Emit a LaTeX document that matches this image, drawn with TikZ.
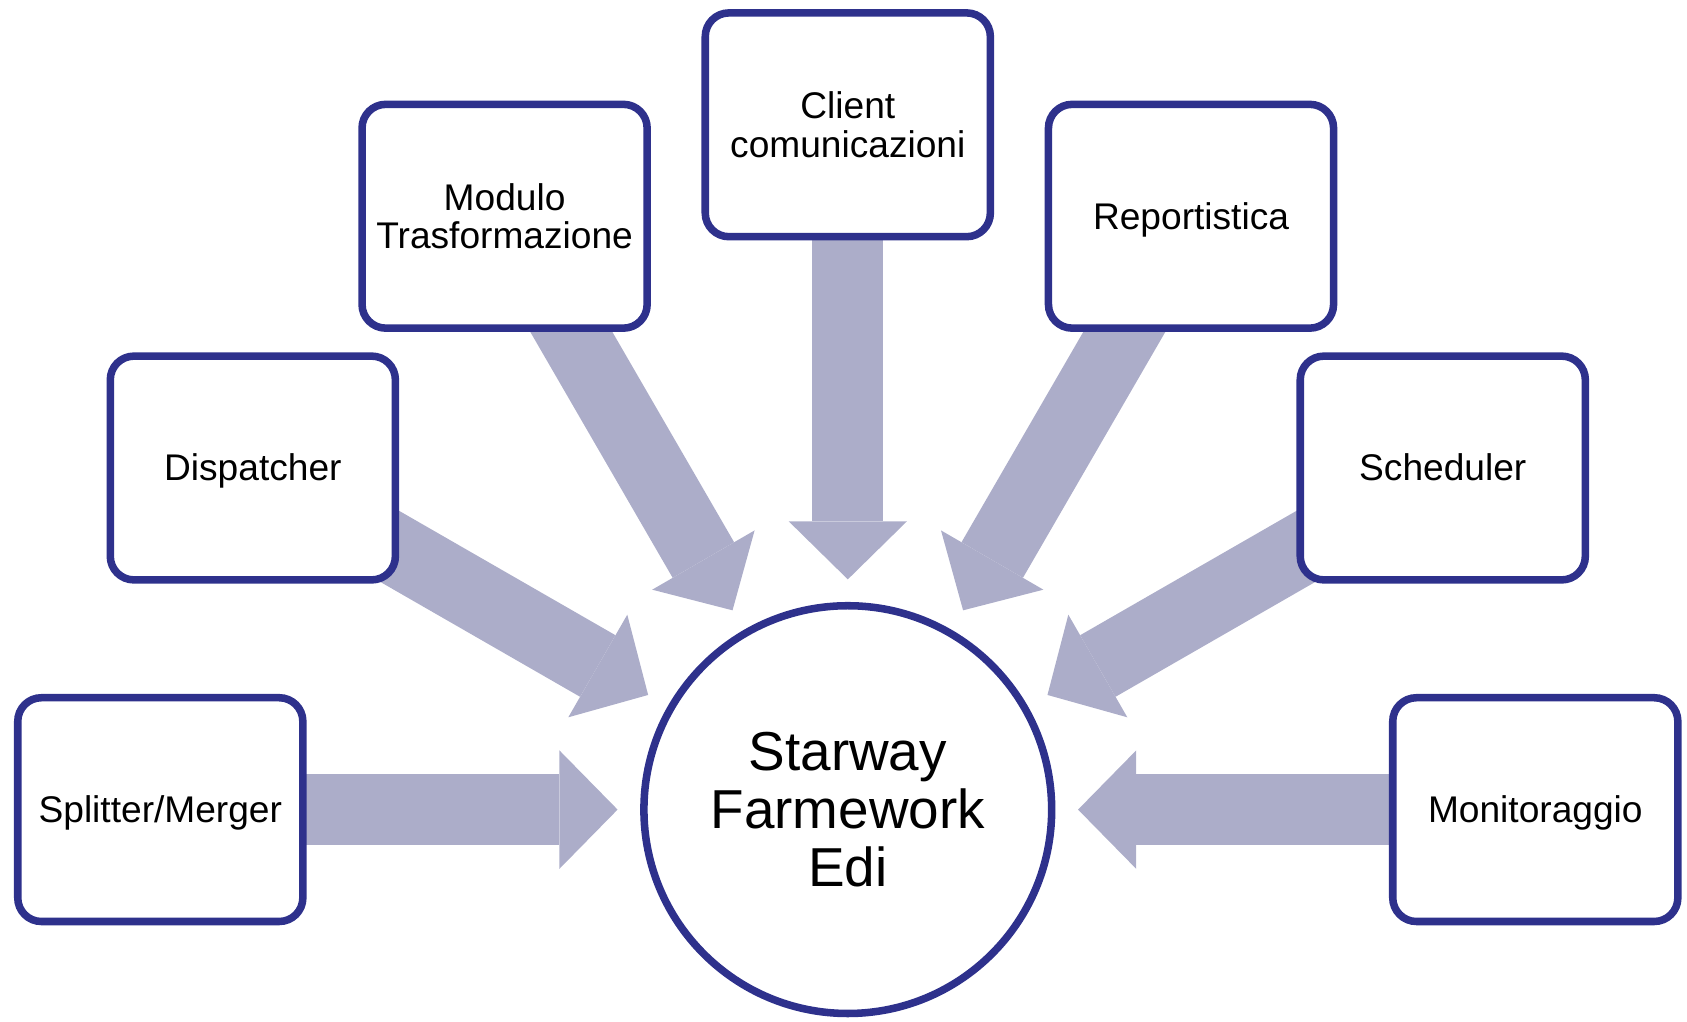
\documentclass[tikz,border=0pt]{standalone}
\usepackage{fontspec}
\setmainfont{Liberation Sans}
\usetikzlibrary{arrows.meta,backgrounds,shadows}

\definecolor{edgeblue}{RGB}{46,49,140}
\definecolor{flowgray}{RGB}{172,173,201}

\tikzset{
    part/.style={draw=edgeblue, line width=3.5pt, fill=white, rounded corners=11pt,
        minimum width=132.5pt, minimum height=104pt, align=center, inner sep=0pt,
        font=\fontsize{17.25}{18}\selectfont,
        drop shadow={shadow xshift=0.8pt, shadow yshift=-1.2pt, opacity=0.25, fill=black}},
    oneline/.style={text height=15.6pt, text depth=3.66pt},
    core/.style={draw=edgeblue, line width=3.5pt, fill=white, circle,
        minimum size=189.5pt, align=center, inner sep=0pt,
        font=\fontsize{25.5}{27}\selectfont},
    flow/.style={draw=flowgray, line width=33pt,
        -{Triangle[width=55pt, length=27pt, line width=0pt]},
        shorten >=10.5pt, shorten <=-20pt}
}

\begin{document}
\begin{tikzpicture}[x=0.5pt, y=0.5pt]

    \useasboundingbox (0,0) rectangle (1568,949);

    \node[core] (edi) at (788,196.5) {Starway\\Farmework\\Edi};

    %boxes
    \node[part,oneline] (split)  at (149,196.5)  {Splitter/Merger};
    \node[part,oneline] (disp)   at (235,514)    {Dispatcher};
    \node[part]         (modu)   at (469,748)    {Modulo\\Trasformazione};
    \node[part]         (client) at (788,833)    {Client\\comunicazioni};
    \node[part,oneline] (report) at (1107,748)   {Reportistica};
    \node[part,oneline] (sched)  at (1341,514)   {Scheduler};
    \node[part,oneline] (monit)  at (1427,196.5) {Monitoraggio};

    %arrows
    \begin{scope}[on background layer]
        \foreach \n in {split,disp,modu,client,report,sched,monit} {
            \draw[flow] (\n) -- (edi);
        }
    \end{scope}

\end{tikzpicture}
\end{document}
